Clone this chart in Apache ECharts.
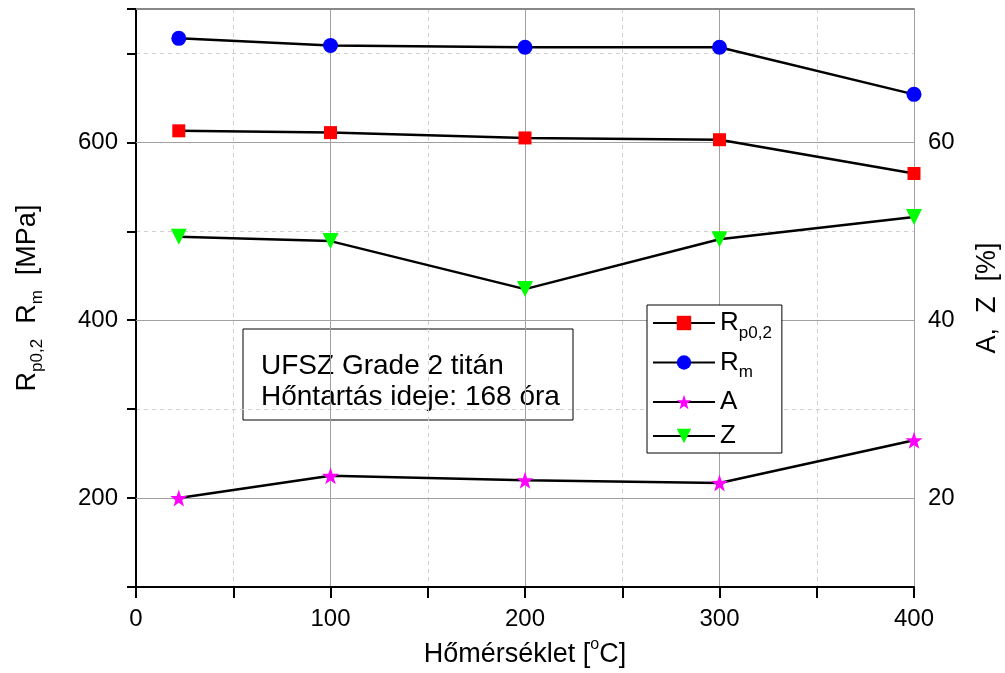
<!DOCTYPE html>
<html>
<head>
<meta charset="utf-8">
<script src="https://cdn.jsdelivr.net/npm/echarts@6/dist/echarts.min.js"></script>
<style>
html, body { margin: 0; padding: 0; background: #fff; }
#main { width: 1005px; height: 673px; }
</style>
</head>
<body>
<div id="main"></div>
<script>
var temps = [22, 100, 200, 300, 400];
var rp02 = [613, 611, 605, 603, 565];
var rm = [717, 709, 707, 707, 654];
var aVals = [20.0, 22.5, 22.0, 21.7, 26.5];
var zVals = [49.4, 48.9, 43.5, 49.1, 51.6];
var leftMajor = [200, 400, 600];
var rightLabels = [20, 40, 60];

var FONT = 'Liberation Sans';
var STAR = 'path://M10,0 L12.35,6.76 L19.51,6.91 L13.8,11.24 L15.88,18.09 L10,14 L4.12,18.09 L6.2,11.24 L0.49,6.91 L7.65,6.76 Z';
var TRI_DOWN = 'path://M0,0 L10,0 L5,9 Z';

function pairs(vals) {
	var out = [];
	for (var i = 0; i < temps.length; i++) {
		out.push([temps[i], vals[i]]);
	}
	return out;
}

function mkSeries(name, vals, yIdx, symbol, size, color) {
	return {
		name : name,
		type : 'line',
		yAxisIndex : yIdx,
		data : pairs(vals),
		symbol : symbol,
		symbolSize : size,
		showAllSymbol : true,
		clip : false,
		itemStyle : { color : color },
		lineStyle : { color : '#000', width : 2.5 },
		emphasis : { disabled : true }
	};
}

var subRich = {
	n : { fontSize : 26, fontFamily : FONT, color : '#000' },
	s : { fontSize : 17, fontFamily : FONT, color : '#000', padding : [20, 0, 0, 0] },
	o : { fontSize : 15, fontFamily : FONT, color : '#000', padding : [0, 0, 20, 0] }
};
var axisNameRich = {
	n : { fontSize : 27, fontFamily : FONT, color : '#000' },
	s : { fontSize : 17, fontFamily : FONT, color : '#000', padding : [20, 0, 0, 0] },
	o : { fontSize : 16, fontFamily : FONT, color : '#000', padding : [0, 0, 20, 0] }
};

var legendText = {
	'Rp' : '{n|R}{s|p0,2}',
	'Rm' : '{n|R}{s|m}',
	'A' : '{n|A}',
	'Z' : '{n|Z}'
};

var chart = echarts.init(document.getElementById('main'));
var option = {
	animation : false,
	backgroundColor : '#fff',
	grid : { left : 136, right : 91, top : 9, bottom : 86, outerBoundsMode : 'none' },
	xAxis : [ {
		type : 'value',
		min : 0,
		max : 400,
		interval : 100,
		name : '{n|Hőmérséklet [}{o|o}{n|C]}',
		nameLocation : 'middle',
		nameGap : 50,
		nameTextStyle : { rich : axisNameRich },
		axisLine : { onZero : false, lineStyle : { color : '#000', width : 2 } },
		axisTick : { length : 11, lineStyle : { color : '#000', width : 2 } },
		minorTick : { show : true, splitNumber : 2, length : 11, lineStyle : { color : '#000', width : 2 } },
		axisLabel : { fontSize : 24, fontFamily : FONT, color : '#000', margin : 20 },
		splitLine : { show : true, lineStyle : { color : '#a0a0a0', width : 1 } },
		minorSplitLine : { show : true, lineStyle : { color : '#cfcfcf', width : 1, type : [4, 4] } }
	}, {
		type : 'value',
		position : 'top',
		min : 0,
		max : 400,
		axisLine : { show : true, lineStyle : { color : '#888', width : 2 } },
		axisTick : { show : false },
		axisLabel : { show : false },
		splitLine : { show : false }
	} ],
	yAxis : [ {
		type : 'value',
		min : 100,
		max : 750,
		interval : 100,
		name : '{n|R}{s|p0,2}{n|  R}{s|m}{n|  [MPa]}',
		nameLocation : 'middle',
		nameRotate : 90,
		nameGap : 90,
		nameTextStyle : { rich : axisNameRich },
		axisLine : { show : true, lineStyle : { color : '#000', width : 2 } },
		axisTick : { length : 6, lineStyle : { color : '#000', width : 2 } },
		axisLabel : {
			fontSize : 24, fontFamily : FONT, color : '#000', margin : 18,
			formatter : function (v) { return leftMajor.indexOf(v) >= 0 ? String(v) : ''; }
		},
		splitLine : { show : true, lineStyle : { color : '#cfcfcf', width : 1, type : [4, 4] } }
	}, {
		type : 'value',
		position : 'right',
		min : 10,
		max : 75,
		interval : 10,
		name : '{n|A,  Z  [%]}',
		nameLocation : 'middle',
		nameRotate : 90,
		nameGap : 60,
		nameTextStyle : { rich : axisNameRich },
		axisLine : { show : true, lineStyle : { color : '#000', width : 2 } },
		axisTick : { inside : true, length : 9, lineStyle : { color : '#000', width : 2 } },
		axisLabel : {
			fontSize : 24, fontFamily : FONT, color : '#000', margin : 14,
			formatter : function (v) { return rightLabels.indexOf(v) >= 0 ? String(v) : ''; }
		},
		splitLine : { show : false }
	} ],
	legend : {
		orient : 'vertical',
		left : 647,
		top : 305,
		data : [ 'Rp', 'Rm', 'A', 'Z' ],
		itemWidth : 62,
		itemHeight : 18,
		itemGap : 8,
		padding : [ 5, 10, 4, 5 ],
		borderColor : '#000',
		borderWidth : 1,
		backgroundColor : '#fff',
		selectedMode : false,
		formatter : function (name) { return legendText[name]; },
		textStyle : { rich : subRich }
	},
	graphic : [ {
		type : 'group',
		z : 100,
		children : [ {
			type : 'rect',
			shape : { x : 243, y : 329, width : 330, height : 91 },
			style : { fill : '#fff', stroke : '#000', lineWidth : 1 }
		}, {
			type : 'text',
			x : 261,
			y : 351,
			style : {
				text : 'UFSZ Grade 2 titán\nHőntartás ideje: 168 óra',
				font : '28px "Liberation Sans"',
				lineHeight : 31,
				fill : '#000'
			}
		} ]
	} ],
	series : [
		mkSeries('Rp', rp02, 0, 'rect', 13, '#ff0000'),
		mkSeries('Rm', rm, 0, 'circle', 15, '#0000ff'),
		mkSeries('A', aVals, 1, STAR, 17, '#ff00ff'),
		mkSeries('Z', zVals, 1, TRI_DOWN, 16, '#00ff00'),
		{
			name : 'grid',
			type : 'line',
			yAxisIndex : 0,
			data : [],
			markLine : {
				silent : true,
				z : 1,
				symbol : 'none',
				animation : false,
				label : { show : false },
				lineStyle : { color : '#a0a0a0', width : 1, type : 'solid' },
				data : leftMajor.map(function (v) { return { yAxis : v }; })
			}
		}
	]
};
chart.setOption(option);
</script>
</body>
</html>
